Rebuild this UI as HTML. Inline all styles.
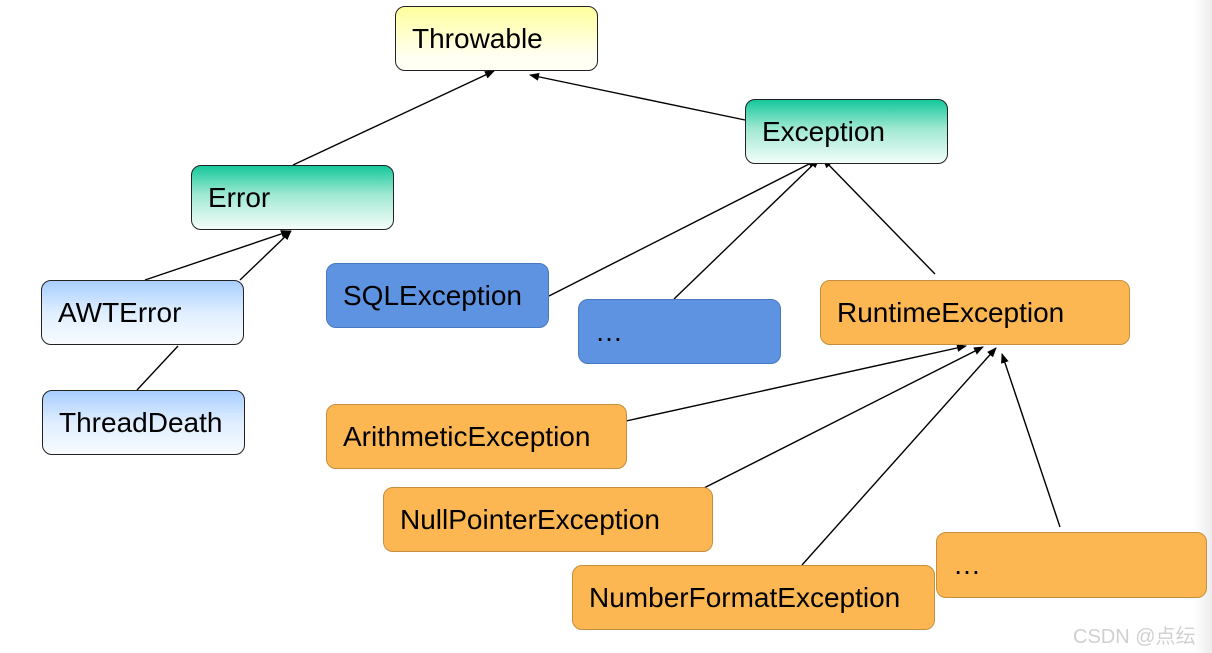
<!DOCTYPE html>
<html><head><meta charset="utf-8"><style>
html,body{margin:0;padding:0;background:#fff;}
body{width:1212px;height:653px;position:relative;overflow:hidden;font-family:"Liberation Sans",sans-serif;}
.strip{position:absolute;right:0;top:0;width:18px;height:653px;background:linear-gradient(to right,#fff,#ececec);}
.b{position:absolute;box-sizing:border-box;border-radius:10px;font-size:28px;color:#000;padding-left:16px;display:flex;align-items:center;}
.y{background:linear-gradient(#ffff9c,#fffff4 80%);border:1.3px solid #222;}
.g{background:linear-gradient(#14c89a,#9fe8d2 45%,#f4fdfa);border:1.3px solid #222;}
.lb{background:linear-gradient(#a8ceff,#dfeeff 50%,#f8fbff);border:1.3px solid #222;}
.bl{background:#5e93e2;border:1.3px solid #4a78c0;}
.o{background:#fdb752;border:1.3px solid #c48e3e;}
svg{position:absolute;left:0;top:0;}
.wm{position:absolute;left:1073px;top:620px;font-size:20px;color:#d0d0d0;font-family:"Liberation Sans","Noto Sans CJK SC",sans-serif;}
</style></head><body>
<div class="strip"></div>
<svg width="1212" height="653">
<defs><marker id="a" markerWidth="10" markerHeight="8" refX="9" refY="4" orient="auto" markerUnits="userSpaceOnUse"><path d="M0,0 L10,4 L0,8 z" fill="#000"/></marker></defs>
<g stroke="#000" stroke-width="1.4" fill="none">
<line x1="293" y1="165" x2="494" y2="71" marker-end="url(#a)"/>
<line x1="745" y1="120" x2="530" y2="75" marker-end="url(#a)"/>
<line x1="145" y1="280" x2="290" y2="231" marker-end="url(#a)"/>
<line x1="240" y1="280" x2="291" y2="231" marker-end="url(#a)"/>
<line x1="137" y1="390" x2="178" y2="346"/>
<line x1="549" y1="296" x2="817" y2="160" marker-end="url(#a)"/>
<line x1="674" y1="299" x2="819" y2="159" marker-end="url(#a)"/>
<line x1="935" y1="274" x2="823" y2="159" marker-end="url(#a)"/>
<line x1="617" y1="423" x2="966" y2="346" marker-end="url(#a)"/>
<line x1="700" y1="490" x2="983" y2="347" marker-end="url(#a)"/>
<line x1="802" y1="565" x2="996" y2="348" marker-end="url(#a)"/>
<line x1="1060" y1="527" x2="1002" y2="354" marker-end="url(#a)"/>
</g></svg>
<div class="b y" style="left:395px;top:6px;width:203px;height:65px;">Throwable</div>
<div class="b g" style="left:745px;top:99px;width:203px;height:65px;">Exception</div>
<div class="b g" style="left:191px;top:165px;width:203px;height:65px;">Error</div>
<div class="b lb" style="left:41px;top:280px;width:203px;height:65px;">AWTError</div>
<div class="b lb" style="left:42px;top:390px;width:203px;height:65px;">ThreadDeath</div>
<div class="b bl" style="left:326px;top:263px;width:223px;height:65px;">SQLException</div>
<div class="b bl" style="left:578px;top:299px;width:203px;height:65px;">…</div>
<div class="b o" style="left:820px;top:280px;width:310px;height:65px;">RuntimeException</div>
<div class="b o" style="left:326px;top:404px;width:301px;height:65px;">ArithmeticException</div>
<div class="b o" style="left:383px;top:487px;width:330px;height:65px;">NullPointerException</div>
<div class="b o" style="left:572px;top:565px;width:363px;height:65px;">NumberFormatException</div>
<div class="b o" style="left:936px;top:532px;width:271px;height:66px;">…</div>
<div class="wm">CSDN @点纭</div>
</body></html>
